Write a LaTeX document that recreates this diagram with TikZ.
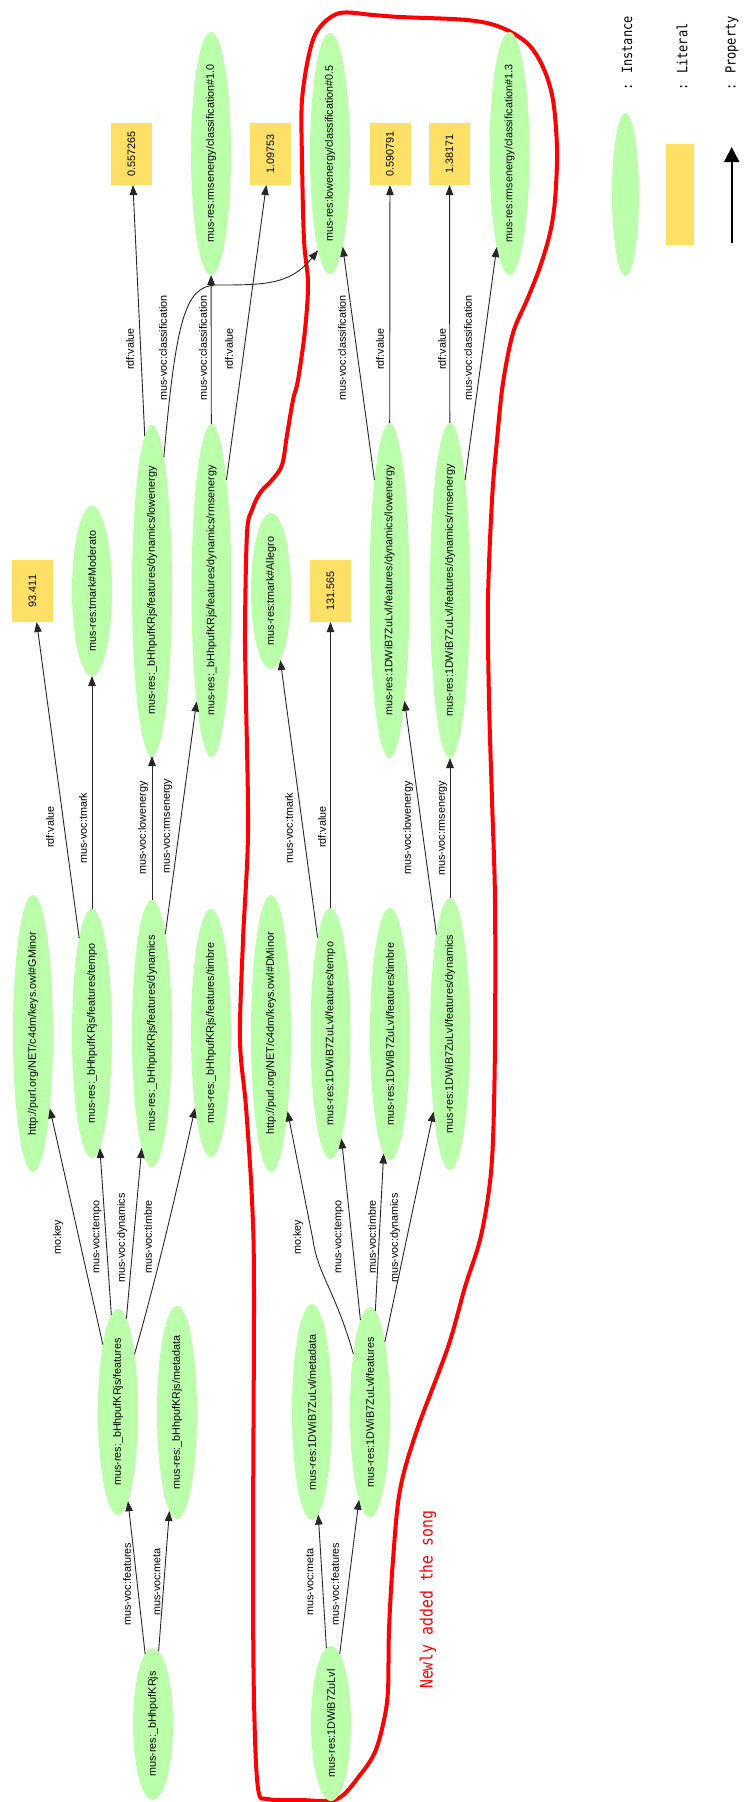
\documentclass[tikz,border=0pt]{standalone}
\usepackage{fontspec}
\setmainfont{Liberation Sans}
\newfontfamily\dgmono{DejaVu Sans Mono}
\usetikzlibrary{shapes.geometric,arrows.meta}
\definecolor{instgreen}{RGB}{187,255,170}
\definecolor{lityellow}{RGB}{255,224,102}
\newcommand{\dgnodefont}{\fontsize{10.8}{12}\selectfont}
\newcommand{\mkinst}[4]{\node[inst, minimum width=#3] (#1) at (#2) {\makebox[0pt]{#4}};}
\newcommand{\mklit}[3]{\node[litbox] (#1) at (#2) {#3};}
\newcommand{\mklbl}[3]{\node[lbl] (#1) at (#2) {#3};}
\begin{document}
\begin{tikzpicture}[x=1pt,y=-1pt,
  inst/.style={ellipse, fill=instgreen, draw=none, inner sep=0pt, outer sep=0pt, minimum height=40pt, rotate=90, font=\dgnodefont},
  litbox/.style={rectangle, fill=lityellow, draw=none, inner sep=0pt, outer sep=0pt, minimum width=62pt, minimum height=41pt, rotate=90, font=\dgnodefont},
  lbl/.style={rotate=90, inner sep=0pt, font=\dgnodefont},
  conn/.style={draw=black!85, line width=0.9pt, -{Triangle[length=10pt,width=7.5pt]}},
  legtext/.style={rotate=90, anchor=west, inner sep=0pt},
]
\useasboundingbox (0,0) rectangle (744,1802);

% ---------- red outline ----------
\draw[red, line width=4pt, line join=round] plot[smooth cycle, tension=0.55] coordinates {
(340,13) (373,15) (400,17) (467,20) (500,27) (527,43) (543,67) (553,100) (557,150) (555,200) (550,233) (540,267) (527,300) (513,333) (503,383) (497,440) (492,500) (488,600) (489,700) (492,800) (495,900) (495,1040) (493,1140) (489,1190) (480,1240) (465,1287) (448,1347) (417,1430) (400,1490) (393,1560) (389,1630) (388,1690) (384,1720) (375,1752) (360,1775) (337,1799) (300,1800) (268,1799) (258,1788) (254,1700) (253,1550) (254,1290) (252,1200) (246,1107) (240,1040) (243,940) (248,833) (246,700) (245,630) (247,533) (252,510) (260,493) (272,480) (282,465) (287,435) (293,400) (298,380) (305,330) (308,283) (304,240) (302,160) (302,100) (310,50) (320,27)};

% ---------- instances ----------
\mkinst{c10}{211,153.5}{243}{mus-res:rmsenergy/classification\#1.0}
\mkinst{c05}{330,153.5}{241}{mus-res:lowenergy/classification\#0.5}
\mkinst{c13}{509.5,153.5}{243}{mus-res:rmsenergy/classification\#1.3}
\mkinst{modr}{92,591}{170}{mus-res:tmark\#Moderato}
\mkinst{bLow}{152,590.5}{331}{mus-res:\_bHhpufKRjs/features/dynamics/lowenergy}
\mkinst{bRms}{211.5,590.5}{333}{mus-res:\_bHhpufKRjs/features/dynamics/rmsenergy}
\mkinst{alle}{271,591}{156}{mus-res:tmark\#Allegro}
\mkinst{dLow}{389.5,590.5}{335}{mus-res:1DWiB7ZuLvl/features/dynamics/lowenergy}
\mkinst{dRms}{450,590.5}{335}{mus-res:1DWiB7ZuLvl/features/dynamics/rmsenergy}
\mkinst{gmin}{33,1033.5}{277}{http://purl.org/NET/c4dm/keys.owl\#GMinor}
\mkinst{bTem}{92,1033.5}{249}{mus-res:\_bHhpufKRjs/features/tempo}
\mkinst{bDyn}{152,1033.5}{267}{mus-res:\_bHhpufKRjs/features/dynamics}
\mkinst{bTim}{211,1033}{248}{mus-res:\_bHhpufKRjs/features/timbre}
\mkinst{dmin}{271,1033.5}{277}{http://purl.org/NET/c4dm/keys.owl\#DMinor}
\mkinst{dTem}{330.5,1033.5}{251}{mus-res:1DWiB7ZuLvl/features/tempo}
\mkinst{dTim}{390,1034}{252}{mus-res:1DWiB7ZuLvl/features/timbre}
\mkinst{dDyn}{450,1034}{272}{mus-res:1DWiB7ZuLvl/features/dynamics}
\mkinst{bFea}{118,1412}{206}{mus-res:\_bHhpufKRjs/features}
\mkinst{bMet}{177,1412.5}{213}{mus-res:\_bHhpufKRjs/metadata}
\mkinst{dMet}{312,1412}{216}{mus-res:1DWiB7ZuLvl/metadata}
\mkinst{dFea}{370,1412}{210}{mus-res:1DWiB7ZuLvl/features}
\mkinst{bSong}{153,1724}{152}{mus-res:\_bHhpufKRjs}
\mkinst{dSong}{331,1723.5}{155}{mus-res:1DWiB7ZuLvl}

% ---------- literals ----------
\mklit{v1}{131.5,154}{0.557265}
\mklit{v2}{270.5,154}{1.09753}
\mklit{v3}{390,154}{0.590791}
\mklit{v4}{449.5,154}{1.38171}
\mklit{v5}{32.5,591}{93.411}
\mklit{v6}{330.5,591}{131.565}

% ---------- edges ----------
\draw[conn] (bSong) -- (bFea);
\draw[conn] (bSong) -- (bMet);
\draw[conn] (dSong) -- (dMet);
\draw[conn] (dSong) -- (dFea);
\draw[conn] (bFea) -- (gmin);
\draw[conn] (bFea) -- (bTem);
\draw[conn] (bFea) -- (bDyn);
\draw[conn] (bFea) .. controls (150,1300) and (168,1230) .. (bTim.168);
\draw[conn] (dFea) .. controls (335,1290) and (318,1275) .. (313,1240) -- (dmin.192);
\draw[conn] (dFea) -- (dTem);
\draw[conn] (dFea) -- (dTim);
\draw[conn] (dFea) -- (dDyn);
\draw[conn] (bTem) -- (v5);
\draw[conn] (bTem) -- (modr);
\draw[conn] (bDyn) -- (bLow);
\draw[conn] (bDyn) -- (bRms);
\draw[conn] (dTem) -- (alle);
\draw[conn] (dTem) -- (v6);
\draw[conn] (dDyn) -- (dLow);
\draw[conn] (dDyn) -- (dRms);
\draw[conn] (bLow) -- (v1);
\draw[conn] (bLow) .. controls (176,320) and (185,287) .. (215,285) .. controls (265,285) and (290,285) .. (c05.173);
\draw[conn] (bRms) -- (c10);
\draw[conn] (bRms) -- (v2);
\draw[conn] (dLow) -- (c05);
\draw[conn] (dLow) -- (v3);
\draw[conn] (dRms) -- (v4);
\draw[conn] (dRms) -- (c13);

% ---------- edge labels ----------
\mklbl{l1}{127,1584}{mus-voc:features}
\mklbl{l2}{157,1582}{mus-voc:meta}
\mklbl{l3}{310,1582}{mus-voc:meta}
\mklbl{l4}{335,1584}{mus-voc:features}
\mklbl{l5}{58,1237}{mo:key}
\mklbl{l6}{97,1237}{mus-voc:tempo}
\mklbl{l7}{122,1238}{mus-voc:dynamics}
\mklbl{l8}{148,1237}{mus-voc:timbre}
\mklbl{l9}{298,1237}{mo:key}
\mklbl{l10}{339,1237}{mus-voc:tempo}
\mklbl{l11}{372,1237}{mus-voc:timbre}
\mklbl{l12}{395,1238}{mus-voc:dynamics}
\mklbl{l13}{50,827}{rdf:value}
\mklbl{l14}{83,828}{mus-voc:tmark}
\mklbl{l15}{143,828}{mus-voc:lowenergy}
\mklbl{l16}{168,826}{mus-voc:rmsenergy}
\mklbl{l17}{289,828}{mus-voc:tmark}
\mklbl{l18}{322,827}{rdf:value}
\mklbl{l19}{408,828}{mus-voc:lowenergy}
\mklbl{l20}{443,828}{mus-voc:rmsenergy}
\mklbl{l21}{130,349}{rdf:value}
\mklbl{l22}{163,348}{mus-voc:classification}
\mklbl{l23}{203,348}{mus-voc:classification}
\mklbl{l24}{229,349}{rdf:value}
\mklbl{l25}{342,348}{mus-voc:classification}
\mklbl{l26}{380,349}{rdf:value}
\mklbl{l27}{442,349}{rdf:value}
\mklbl{l28}{468,348}{mus-voc:classification}

% ---------- note ----------
\node[legtext, text=red] (note) at (428,1689) {\scalebox{0.87}[1]{\dgmono\fontsize{17}{18}\selectfont Newly added the song}};

% ---------- legend ----------
\node[ellipse, fill=instgreen, inner sep=0pt, minimum width=27pt, minimum height=163pt] (legI) at (625.5,194.5) {};
\node[rectangle, fill=lityellow, inner sep=0pt, minimum width=28pt, minimum height=101pt] (legL) at (680,194.5) {};
\coordinate (legPa) at (731.7,243);
\coordinate (legPb) at (731.7,147);
\draw[line width=2pt, -{Triangle[length=15pt,width=15pt]}] (legPa) -- (legPb);
\node[legtext] (legIt) at (627,91) {\scalebox{0.857}[1]{\dgmono\fontsize{14}{15}\selectfont : Instance}};
\node[legtext] (legLt) at (682,91) {\scalebox{0.857}[1]{\dgmono\fontsize{14}{15}\selectfont : Literal}};
\node[legtext] (legPt) at (732,91) {\scalebox{0.857}[1]{\dgmono\fontsize{14}{15}\selectfont : Property}};
\end{tikzpicture}
\end{document}
